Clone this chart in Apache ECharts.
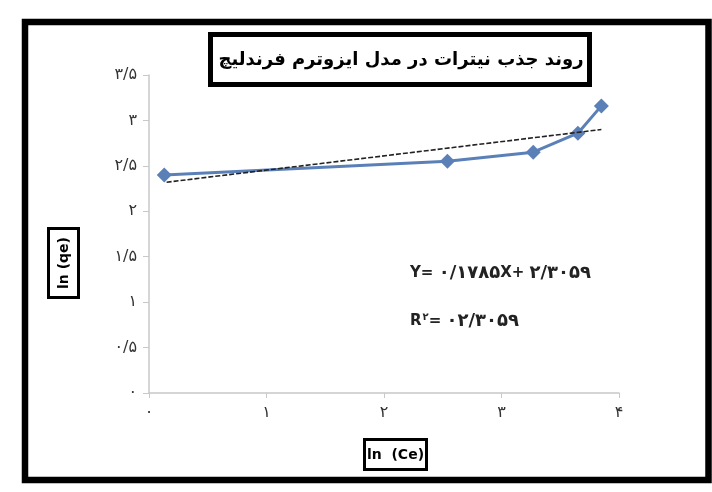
<!DOCTYPE html>
<html><head><meta charset="utf-8">
<script src="https://cdn.jsdelivr.net/npm/echarts@6/dist/echarts.min.js"></script>
<style>html,body{margin:0;padding:0;background:#fff}#c{width:712px;height:492px}</style>
</head><body><div id="c"></div>
<script>
// data
var lnCe = [0.13, 2.54, 3.27, 3.65, 3.85];
var lnQe = [2.40, 2.55, 2.65, 2.86, 3.16];
var trendX = [0.15, 3.85];
var trendY = [2.32, 2.90];
var yTickLabels = ['۰','۰/۵','۱','۱/۵','۲','۲/۵','۳','۳/۵'];
var xTickLabels = ['۰','۱','۲','۳','۴'];
var titleText = 'روند جذب نیترات در مدل ایزوترم فرندلیچ';
var eqLatin = 'Y= ';
var eqA = '۰/۱۷۸۵';
var eqMid = 'X+ ';
var eqB = '۲/۳۰۵۹';
var r2Text = '۰۲/۳۰۵۹';

var chart = echarts.init(document.getElementById('c'));
var font = 'DejaVu Sans';
chart.setOption({
  animation: false,
  grid: {left: 149, top: 75, width: 470, height: 318, containLabel: false},
  xAxis: {
    type: 'value', min: 0, max: 4, interval: 1,
    axisLine: {lineStyle: {color: '#c8c8c8', width: 1.5}},
    axisTick: {length: 5, lineStyle: {color: '#c8c8c8'}},
    splitLine: {show: false},
    axisLabel: {margin: 12, color: '#333', fontFamily: font, fontSize: 16,
      formatter: function (v) { return xTickLabels[Math.round(v)]; }}
  },
  yAxis: {
    type: 'value', min: 0, max: 3.5, interval: 0.5,
    axisLine: {show: true, lineStyle: {color: '#c8c8c8', width: 1.5}},
    axisTick: {show: true, length: 6, lineStyle: {color: '#c8c8c8'}},
    splitLine: {show: false},
    axisLabel: {margin: 12, color: '#333', fontFamily: font, fontSize: 16,
      formatter: function (v) { return yTickLabels[Math.round(v * 2)]; }}
  },
  series: [
    {
      type: 'line', data: lnCe.map(function (x, i) { return [x, lnQe[i]]; }),
      symbol: 'diamond', symbolSize: 15,
      lineStyle: {color: '#5b80b8', width: 3},
      itemStyle: {color: '#5b80b8'}, z: 3
    },
    {
      type: 'line', data: trendX.map(function (x, i) { return [x, trendY[i]]; }),
      symbol: 'none', lineStyle: {color: '#222', width: 1.6, type: [5, 2]}, z: 4
    }
  ],
  graphic: [
    {type: 'rect', shape: {x: 25, y: 22, width: 683.5, height: 458},
      style: {fill: 'none', stroke: '#000', lineWidth: 6.5}, silent: true},
    {type: 'rect', shape: {x: 210.5, y: 34.5, width: 379, height: 50},
      style: {fill: '#fff', stroke: '#000', lineWidth: 5}},
    {type: 'text', x: 401, y: 60, style: {text: titleText, fill: '#000',
      font: 'bold 18px "DejaVu Sans"', textAlign: 'center', textVerticalAlign: 'middle'}},
    {type: 'rect', shape: {x: 48.5, y: 228.5, width: 30, height: 69},
      style: {fill: '#fff', stroke: '#000', lineWidth: 3}},
    {type: 'text', x: 64, y: 263, rotation: Math.PI / 2, style: {text: 'ln (qe)', fill: '#000',
      font: 'bold 14px "DejaVu Sans"', textAlign: 'center', textVerticalAlign: 'middle'}},
    {type: 'rect', shape: {x: 364.5, y: 439.5, width: 62, height: 30},
      style: {fill: '#fff', stroke: '#000', lineWidth: 3}},
    {type: 'text', x: 395.5, y: 455, style: {text: 'ln  (Ce)', fill: '#000',
      font: 'bold 14px "DejaVu Sans"', textAlign: 'center', textVerticalAlign: 'middle'}},
    {type: 'text', x: 410, y: 273, style: {
      text: '{l|' + eqLatin + '}{d|' + eqA + '}{l|' + eqMid + '}{d|' + eqB + '}',
      rich: {
        l: {fill: '#222', fontFamily: font, fontWeight: 'bold', fontSize: 15},
        d: {fill: '#222', fontFamily: font, fontWeight: 'bold', fontSize: 18}
      },
      textAlign: 'left', textVerticalAlign: 'middle'}},
    {type: 'text', x: 410, y: 321, style: {
      text: '{b|R}{s|۲}{b|= }{d|' + r2Text + '}',
      rich: {
        b: {fill: '#222', fontFamily: font, fontWeight: 'bold', fontSize: 15},
        d: {fill: '#222', fontFamily: font, fontWeight: 'bold', fontSize: 18},
        s: {fill: '#222', fontFamily: font, fontWeight: 'bold', fontSize: 10, verticalAlign: 'top', padding: [0, 0, 8, 1]}
      },
      textAlign: 'left', textVerticalAlign: 'middle'}}
  ]
});
</script></body></html>
